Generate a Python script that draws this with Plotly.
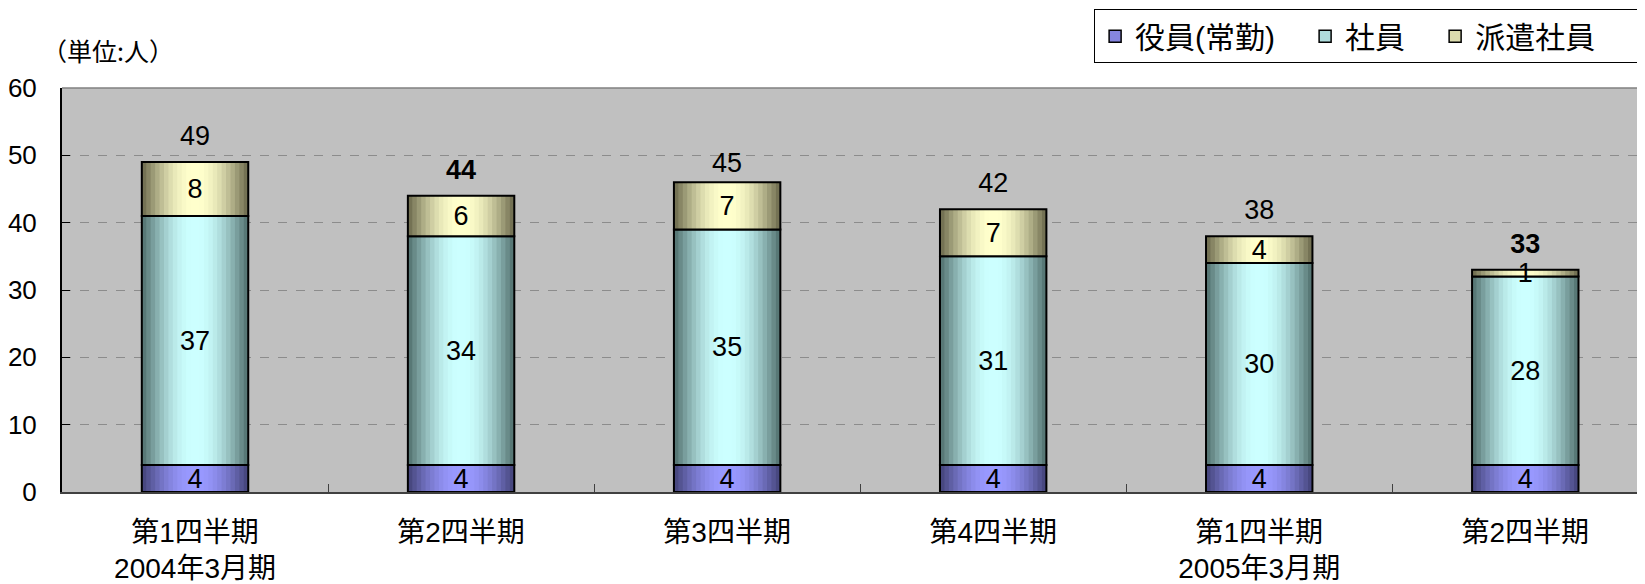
import plotly.graph_objects as go
import numpy as np

tick_labels = ["第1四半期<br>2004年3月期", "第2四半期", "第3四半期", "第4四半期",
               "第1四半期<br>2005年3月期", "第2四半期"]
yakuin = [4, 4, 4, 4, 4, 4]
shain = [37, 34, 35, 31, 30, 28]
haken = [8, 6, 7, 7, 4, 1]
totals = [49, 44, 45, 42, 38, 33]
total_bold = [False, True, False, False, False, True]

series = [
    ("役員(常勤)", yakuin, (0x48, 0x48, 0x80), (0x99, 0x99, 0xff)),
    ("社員", shain, (0x58, 0x78, 0x76), (0xcc, 0xff, 0xff)),
    ("派遣社員", haken, (0x74, 0x72, 0x54), (0xff, 0xff, 0xcc)),
]

FONT = "Liberation Sans, Arial, Noto Sans CJK JP, sans-serif"
x = list(range(len(tick_labels)))
W = 0.40
N = 12
NB = "\u00a0"

fig = go.Figure()

# legend entries
for i, (name, vals, dark, light) in enumerate(series):
    mid = tuple(int(round(d + (l - d) * 0.75)) for d, l in zip(dark, light))
    fig.add_trace(go.Bar(
        x=[None], y=[None], name=name + (NB * 3 if i < len(series) - 1 else NB * 5),
        marker=dict(color="rgb(%d,%d,%d)" % mid, line=dict(width=1.5, color="black")),
        showlegend=True, hoverinfo="skip",
    ))

base = np.zeros(len(x))
for name, vals, dark, light in series:
    vals = np.array(vals, dtype=float)
    for k in range(N):
        t = np.sin(np.pi / 2 * k / (N - 1))
        c = tuple(int(round(d + (l - d) * t)) for d, l in zip(dark, light))
        col = "rgb(%d,%d,%d)" % c
        w = W * (1 - k / N)
        fig.add_trace(go.Bar(
            x=x, y=vals, base=base, width=w, name=name,
            marker=dict(color=col, line=dict(width=0)),
            showlegend=False, hoverinfo="skip",
        ))
    fig.add_trace(go.Bar(
        x=x, y=vals, base=base, width=W, name=name,
        marker=dict(color="rgba(0,0,0,0)", line=dict(width=2, color="black")),
        showlegend=False,
        text=[str(int(v)) for v in vals], textposition="inside", textangle=0,
        insidetextanchor="middle", constraintext="none",
        textfont=dict(family=FONT, size=27, color="black"),
        cliponaxis=False,
    ))
    base = base + vals

fig.add_trace(go.Scatter(
    x=x, y=[t + 3.5 for t in totals], mode="text",
    text=[("<b>%d</b>" % t) if b else str(t) for t, b in zip(totals, total_bold)],
    textfont=dict(family=FONT, size=27, color="black"),
    showlegend=False, hoverinfo="skip", cliponaxis=False,
))

fig.update_layout(
    width=1637, height=576,
    margin=dict(l=54, r=0, t=80, b=90),
    paper_bgcolor="white", plot_bgcolor="#C0C0C0",
    barmode="overlay",
    font=dict(family=FONT, size=26, color="black"),
    legend=dict(
        orientation="h", x=0.652, xanchor="left", y=1.195, yanchor="top",
        bgcolor="white", bordercolor="black", borderwidth=1,
        font=dict(family=FONT, size=30, color="black"),
        traceorder="normal",
    ),
    xaxis=dict(
        range=[-0.5, 5.45], tickmode="array", tickvals=x, ticktext=tick_labels,
        ticks="", showgrid=False, zeroline=False,
        showline=True, linecolor="#404040", linewidth=2,
        tickfont=dict(family=FONT, size=28, color="black"),
        ticklabelstandoff=14,
        minor=dict(tickmode="array", tickvals=[i + 0.5 for i in x[:-1]],
                   ticks="inside", ticklen=8, tickcolor="#404040", tickwidth=1, showgrid=False),
    ),
    yaxis=dict(
        range=[0, 60], tickmode="linear", tick0=0, dtick=10,
        ticks="inside", ticklen=8, tickcolor="black", tickwidth=1,
        showline=True, linecolor="black", linewidth=2,
        showgrid=True, gridcolor="#8c8c8c", griddash="dash", gridwidth=1,
        zeroline=False,
        tickfont=dict(family=FONT, size=26, color="black"),
        ticklabelstandoff=18,
    ),
    annotations=[dict(
        text="（単位:人）", xref="paper", yref="paper", x=0.029, y=1.0936,
        xanchor="center", yanchor="middle", showarrow=False,
        font=dict(family="Noto Sans CJK JP", size=25, color="black"),
    )],
    shapes=[dict(type="line", xref="paper", yref="paper", x0=0, x1=1, y0=1, y1=1,
                 line=dict(color="#808080", width=1.5))],
)

fig.write_html("out.html")
